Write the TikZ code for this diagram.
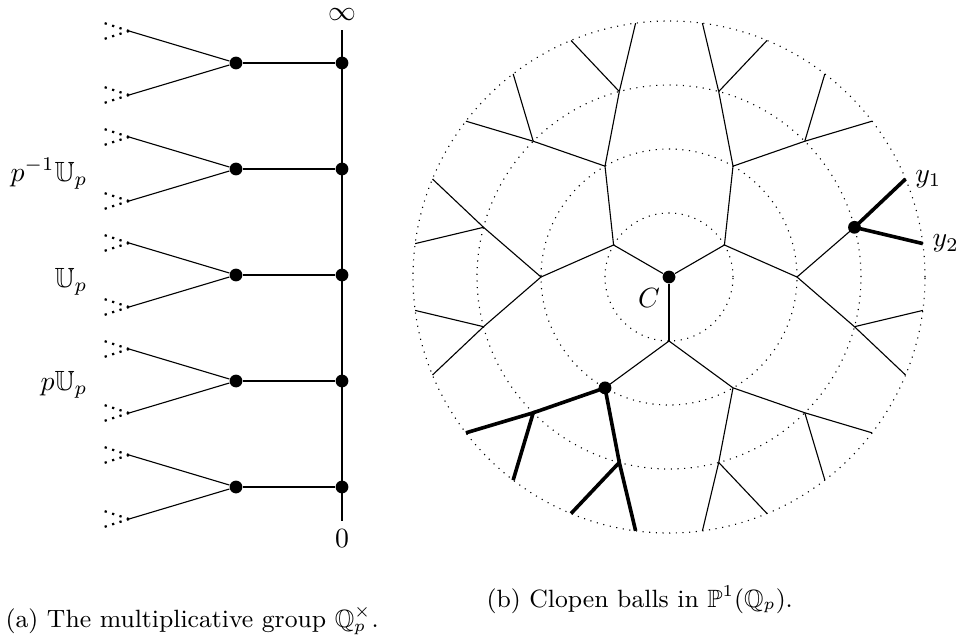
\documentclass[tikz,border=0pt]{standalone}
\usepackage{amssymb}
\usetikzlibrary{calc}
\begin{document}
\begin{tikzpicture}[x=0.36pt,y=0.36pt,
  dot/.style={circle,fill=black,inner sep=0pt,minimum size=4.6pt},
  thinline/.style={line width=0.4pt},
  thickline/.style={line width=1.3pt},
  fan/.style={line width=0.8pt,dash pattern=on 0.8pt off 2pt},
  ring/.style={line width=0.4pt,dash pattern=on 0.4pt off 2pt},
  lab/.style={inner sep=0pt}]
\useasboundingbox (0,0) rectangle (964,635);
% ---------------- left: multiplicative group
\node[inner sep=0pt,outer sep=3.4pt] (inf) at (342,620) {$\infty$};
\node[inner sep=0pt,outer sep=3.4pt] (zero) at (342,96) {$0$};
\draw[thinline] (inf) -- (zero);
\foreach \k/\yy in {1/572,2/466,3/360,4/254,5/148} {
  \node[dot] (v\k) at (342,\yy) {};
  \node[dot] (u\k) at (236,\yy) {};
  \coordinate (a\k) at (129,\yy+32);
  \coordinate (b\k) at (129,\yy-32);
  \draw[thinline] (u\k) -- (v\k);
  \draw[thinline] (u\k) -- (a\k);
  \draw[thinline] (u\k) -- (b\k);
  \foreach \e in {a,b} {
    \coordinate (\e\k-up) at ($(\e\k)+(-25,8)$);
    \coordinate (\e\k-dn) at ($(\e\k)+(-25,-8)$);
    \draw[fan] (\e\k) -- (\e\k-up);
    \draw[fan] (\e\k) -- (\e\k-dn);
  }
}
\node[lab,anchor=base east] (lp1) at (88,454) {$p^{-1}\mathbb{U}_p$};
\node[lab,anchor=base east] (lp2) at (88,348) {$\mathbb{U}_p$};
\node[lab,anchor=base east] (lp3) at (88,245) {$p\mathbb{U}_p$};
\node[lab,anchor=base west,font=\small] (capa) at (5,8) {(a) The multiplicative group $\mathbb{Q}_p^\times$.};
% ---------------- right: clopen balls
\begin{scope}[shift={(669,358)}]
  \foreach \r in {64,128,192,256} {
    \draw[ring] (0,0) circle[radius=\r];
  }
  \node[dot] (C) at (0,0) {};
  \foreach \i/\a in {1/30,2/150,3/270} {
    \coordinate (L1-\i) at (\a:64);
    \draw[thinline] (C) -- (L1-\i);
    \foreach \j/\s in {1/-1,2/1} {
      \pgfmathsetmacro\angb{\a+30*\s}
      \coordinate (L2-\i-\j) at (\angb:128);
      \draw[thinline] (L1-\i) -- (L2-\i-\j);
      \foreach \k/\t in {1/-1,2/1} {
        \pgfmathsetmacro\angc{\angb+15*\t}
        \coordinate (L3-\i-\j-\k) at (\angc:192);
        \draw[thinline] (L2-\i-\j) -- (L3-\i-\j-\k);
        \foreach \l/\u in {1/-1,2/1} {
          \pgfmathsetmacro\angd{\angc+7.5*\u}
          \coordinate (L4-\i-\j-\k-\l) at (\angd:256);
          \draw[thinline] (L3-\i-\j-\k) -- (L4-\i-\j-\k-\l);
        }
      }
    }
  }
\end{scope}
% thick subtrees
\draw[thickline] (L3-3-1-1) -- (L2-3-1) -- (L3-3-1-2);
\draw[thickline] (L4-3-1-1-1) -- (L3-3-1-1) -- (L4-3-1-1-2);
\draw[thickline] (L4-3-1-2-1) -- (L3-3-1-2) -- (L4-3-1-2-2);
\draw[thickline] (L4-1-1-2-1) -- (L3-1-1-2) -- (L4-1-1-2-2);
\node[dot] (D1) at (L2-3-1) {};
\node[dot] (D2) at (L3-1-1-2) {};
\node (Clab) at (649,337) {$C$};
\node[right] (y1) at (L4-1-1-2-2) {$y_1$};
\node[right] (y2) at (L4-1-1-2-1) {$y_2$};
\node[lab,anchor=base west,font=\small] (capb) at (486,28) {(b) Clopen balls in $\mathbb{P}^1(\mathbb{Q}_p)$.};
\end{tikzpicture}
\end{document}
